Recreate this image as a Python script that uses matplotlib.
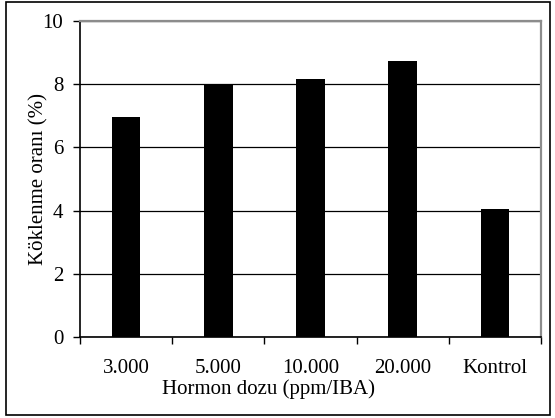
import matplotlib
matplotlib.use("Agg")
import matplotlib.pyplot as plt
from matplotlib.patches import Rectangle

categories = ["3.000", "5.000", "10.000", "20.000", "Kontrol"]
values = [6.97, 7.97, 8.16, 8.74, 4.05]
y_ticks = [0, 2, 4, 6, 8, 10]

plt.rcParams["font.family"] = ["Liberation Serif", "DejaVu Serif"]
fs = 15

fig = plt.figure(figsize=(5.55, 4.18), dpi=100)
ax = fig.add_axes([80 / 555, 1 - 337 / 418, (541 - 80) / 555, (337 - 21) / 418])

x = list(range(len(categories)))
ax.bar(x, values, width=0.31, color="black", zorder=3)

ax.set_xlim(-0.5, len(categories) - 0.5)
ax.set_ylim(0, 10)
ax.set_yticks(y_ticks)
ax.set_yticklabels([str(t) for t in y_ticks], fontsize=fs)
ax.set_xticks(x)
ax.set_xticklabels(categories, fontsize=fs)
ax.tick_params(axis="x", which="major", length=0, pad=16)
ax.set_xticks([i - 0.5 for i in range(len(categories) + 1)], minor=True)
ax.tick_params(axis="x", which="minor", length=5, width=1, direction="out", color="black")
ax.tick_params(axis="y", length=5, width=1, direction="out", pad=7, color="black")

ax.yaxis.grid(True, color="black", linewidth=0.9, zorder=1)
ax.set_axisbelow(True)

ax.spines["left"].set_color("black")
ax.spines["bottom"].set_color("black")
ax.spines["left"].set_linewidth(1.2)
ax.spines["bottom"].set_linewidth(1.2)
ax.spines["top"].set_color("#8c8c8c")
ax.spines["right"].set_color("#8c8c8c")
ax.spines["top"].set_linewidth(1.6)
ax.spines["right"].set_linewidth(1.6)

ax.set_ylabel("Köklenme oranı (%)", fontsize=fs)
ax.yaxis.set_label_coords(-32 / 461, 0.5)

fig.text(268 / 555, 1 - 394 / 418, "Hormon dozu (ppm/IBA)", fontsize=fs,
         ha="center", va="baseline")

fig.patches.append(Rectangle((6 / 555, 1 - 415 / 418), (550 - 6) / 555, (415 - 2) / 418,
                             transform=fig.transFigure, fill=False,
                             edgecolor="black", linewidth=1.2))

fig.savefig("out.png", dpi=100)
